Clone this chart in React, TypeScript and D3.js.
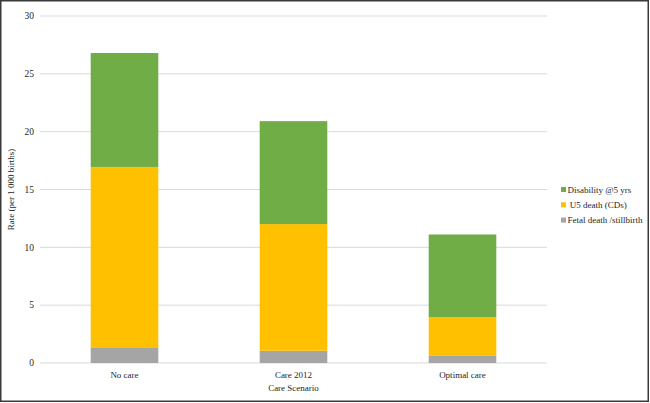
import React, { useEffect, useRef } from "react";
import * as d3 from "d3";

const scenarios = ["No care", "Care 2012", "Optimal care"];
const fetalDeath = [1.3, 1.06, 0.66];
const u5Death = [15.65, 10.95, 3.3];
const disability = [9.85, 8.9, 7.15];
const yTicks = [0, 5, 10, 15, 20, 25, 30];

const legendLabels = ["Disability @5 yrs", "\u00a0U5 death (CDs)", "Fetal death /stillbirth"];
const colors = ["#A5A5A5", "#FFC000", "#70AD47"];

const W = 650;
const H = 403;
const margin = { top: 16, right: 103, bottom: 40, left: 40 };
const font = "Liberation Serif";

export default function App() {
  const ref = useRef<SVGSVGElement>(null);

  useEffect(() => {
    const svg = d3.select(ref.current);
    svg.selectAll("*").remove();

    svg
      .append("rect")
      .attr("x", 0.75)
      .attr("y", 0.75)
      .attr("width", W - 2.5)
      .attr("height", H - 2.5)
      .attr("fill", "#fff")
      .attr("stroke", "#3a3a3a")
      .attr("stroke-width", 1.5);

    const x = d3
      .scaleBand()
      .domain(scenarios)
      .range([margin.left, W - margin.right])
      .paddingInner(0.6)
      .paddingOuter(0.3);
    const y = d3.scaleLinear().domain([0, 30]).range([H - margin.bottom, margin.top]);

    // gridlines
    svg
      .append("g")
      .selectAll("line")
      .data(yTicks)
      .enter()
      .append("line")
      .attr("x1", margin.left)
      .attr("x2", W - margin.right)
      .attr("y1", d => y(d))
      .attr("y2", d => y(d))
      .attr("stroke", "#d9d9d9")
      .attr("stroke-width", 1);

    svg
      .append("g")
      .selectAll("text")
      .data(yTicks)
      .enter()
      .append("text")
      .attr("x", margin.left - 6)
      .attr("y", d => y(d))
      .attr("dy", "0.35em")
      .attr("text-anchor", "end")
      .attr("font-family", font)
      .attr("font-size", 9.5)
      .attr("fill", "#262626")
      .text(d => d);

    const rows = scenarios.map((s, i) => ({
      scenario: s,
      fetal: fetalDeath[i],
      u5: u5Death[i],
      dis: disability[i],
    }));
    const layers = d3.stack<any>().keys(["fetal", "u5", "dis"])(rows);

    svg
      .append("g")
      .selectAll("g")
      .data(layers)
      .enter()
      .append("g")
      .attr("fill", (d, i) => colors[i])
      .selectAll("rect")
      .data(d => d)
      .enter()
      .append("rect")
      .attr("x", d => x(d.data.scenario)!)
      .attr("width", x.bandwidth())
      .attr("y", d => y(d[1]))
      .attr("height", d => y(d[0]) - y(d[1]));

    svg
      .append("g")
      .selectAll("text")
      .data(scenarios)
      .enter()
      .append("text")
      .attr("x", d => x(d)! + x.bandwidth() / 2)
      .attr("y", H - margin.bottom + 15)
      .attr("text-anchor", "middle")
      .attr("font-family", font)
      .attr("font-size", 9)
      .attr("fill", "#262626")
      .text(d => d);

    svg
      .append("text")
      .attr("x", (margin.left + W - margin.right) / 2)
      .attr("y", H - margin.bottom + 28)
      .attr("text-anchor", "middle")
      .attr("font-family", font)
      .attr("font-size", 9)
      .attr("fill", "#262626")
      .text("Care Scenario");

    svg
      .append("text")
      .attr("transform", `translate(14 ${(margin.top + H - margin.bottom) / 2}) rotate(-90)`)
      .attr("text-anchor", "middle")
      .attr("font-family", font)
      .attr("font-size", 9)
      .attr("fill", "#262626")
      .text("Rate (per 1 000 births)");

    const legend = svg
      .append("g")
      .selectAll("g")
      .data(legendLabels)
      .enter()
      .append("g")
      .attr("transform", (d, i) => `translate(561 ${189.5 + i * 15.3})`);
    legend
      .append("rect")
      .attr("x", 0)
      .attr("y", -2.5)
      .attr("width", 5)
      .attr("height", 5)
      .attr("fill", (d, i) => colors[2 - i]);
    legend
      .append("text")
      .attr("x", 6.5)
      .attr("dy", "0.35em")
      .attr("font-family", font)
      .attr("font-size", 9)
      .attr("fill", "#262626")
      .text(d => d);
  }, []);

  return (
    <svg ref={ref} width={W} height={H} style={{ position: "absolute", left: 0, top: 0 }} />
  );
}
